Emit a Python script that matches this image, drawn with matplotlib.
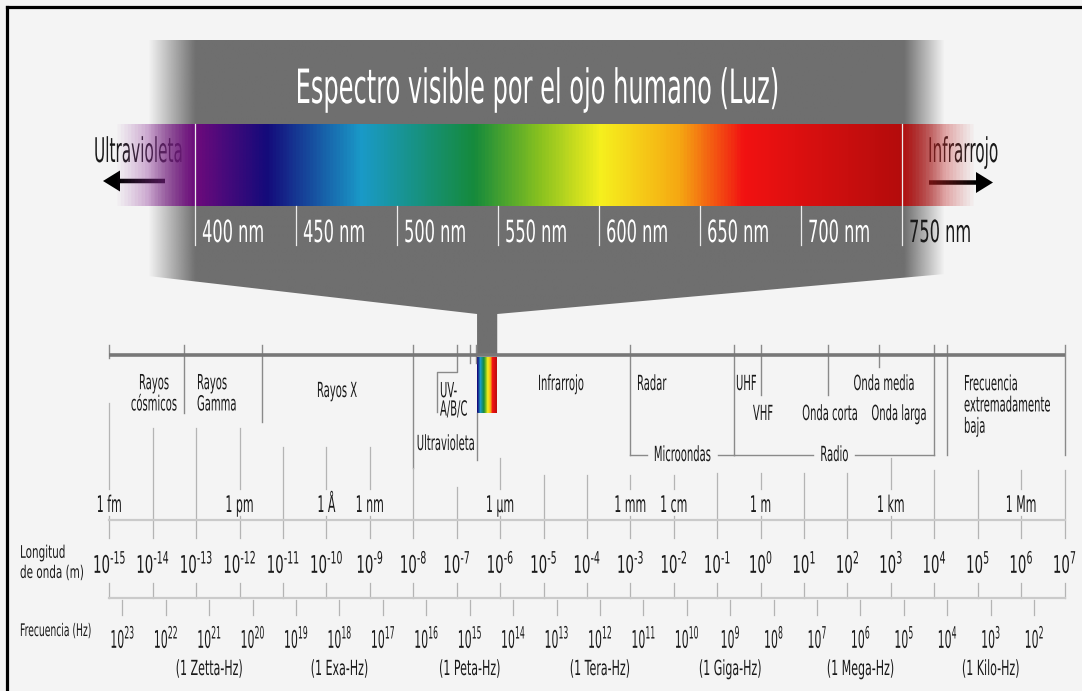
import numpy as np
import matplotlib
matplotlib.use('Agg')
import matplotlib.pyplot as plt
from matplotlib.patches import Polygon
from matplotlib.patheffects import AbstractPathEffect
from matplotlib.text import Text
from matplotlib.transforms import Affine2D, Bbox
from matplotlib.colors import LinearSegmentedColormap, to_rgba

plt.rcParams['mathtext.default'] = 'regular'

# ---------------- data ----------------
# visible band (nm)
VIS_TICKS_NM = [400, 450, 500, 550, 600, 650, 700, 750]
VIS_STOPS_NM = [360, 400, 435, 482, 538, 570, 601, 640, 672, 750, 787]
VIS_COLORS = ['#a04aa8', '#6c0a7c', '#140a7a', '#1a9ac8', '#158a3c', '#86c020',
              '#f6f01e', '#f5a812', '#f21212', '#b40c0c', '#c83a3a']
VIS_ALPHA = [0, 1, 1, 1, 1, 1, 1, 1, 1, 1, 0]

# full spectrum (m, Hz)
WL_EXP = list(range(-15, 8))
FREQ_EXP = list(range(23, 1, -1))
UNIT_EXP = [-15, -12, -10, -9, -6, -3, -2, 0, 3, 6]
UNIT_TEXT = ['1 fm', '1 pm', '1 Å', '1 nm', '1 µm', '1 mm', '1 cm', '1 m', '1 km', '1 Mm']
PREFIX_EXP = [21, 18, 15, 12, 9, 6, 3]
PREFIX_TEXT = ['(1 Zetta-Hz)', '(1 Exa-Hz)', '(1 Peta-Hz)', '(1 Tera-Hz)',
               '(1 Giga-Hz)', '(1 Mega-Hz)', '(1 Kilo-Hz)']

# band boundaries (m)
SEP_M = [1e-15, 5.2e-14, 3.3e-12, 1e-8, 2e-7, 2.8e-7, 1e-3, 0.25, 1.0, 35.0, 540.0, 1e4, 2e4, 1e7]
UV_BRACKET_M = [1e-7, 3.5e-8]
VIS_BAR_M = [2.95e-7, 8.6e-7]
BRACKETS = [('Microondas', 1e-3, 0.25), ('Radio', 0.25, 1e4)]

# ---------------- layout ----------------
W, H = 1082, 691
BG = '#f4f4f4'
GREY = '#6f6f6f'
INK = '#1a1a1a'
SEP_C = '#8a8a8a'
TICK_C = '#b4b4b4'
RULE_C = '#cacaca'
X_1FM, PX_DEC = 109.3, 43.42      # pixel of 1e-15 m, pixels per decade
X_400NM, PX_NM = 195.0, 2.02      # pixel of 400 nm, pixels per nm
FREQ_TO_WL_DEC = 8.3              # 10^k Hz drawn at 10^(8.3-k) m
SEP_DEPTH = [358, 413, 422, 468, 363, 363, 455, 455, 395, 395, 367, 455, 455, 455]
DEC_TOP = [403, 428, 428, 428, 447, 447, 447, 468, 487, 458, 475, 475, 475, 475,
           473, 473, 473, 473, 458, 470, 470, 470, 470]
# (text, x px, first baseline px, ha, line spacing)
BAND_LABELS = [
    ('Rayos\ncósmicos', 154, 389, 'center', 1.08),
    ('Rayos\nGamma', 197, 389, 'left', 1.08),
    ('Rayos X', 337, 397, 'center', 1.0),
    ('UV-\nA/B/C', 440, 397, 'left', 0.9),
    ('Ultravioleta', 475, 450, 'right', 1.0),
    ('Infrarrojo', 561, 390, 'center', 1.0),
    ('Radar', 637, 390, 'left', 1.0),
    ('UHF', 736, 390, 'left', 1.0),
    ('VHF', 763, 420, 'center', 1.0),
    ('Onda corta', 830, 420, 'center', 1.0),
    ('Onda larga', 899, 420, 'center', 1.0),
    ('Onda media', 884, 390, 'center', 1.0),
    ('Frecuencia\nextremadamente\nbaja', 964, 390, 'left', 1.08),
]
BAND_FS = 15


class Squeeze(AbstractPathEffect):
    # narrow the glyphs horizontally (the source image is squashed)
    def __init__(self, sx):
        super().__init__()
        self.sx = sx

    def draw_path(self, renderer, gc, tpath, affine, rgbFace=None):
        renderer.draw_path(gc, tpath, Affine2D().scale(self.sx, 1) + affine, rgbFace)


class NarrowText(Text):
    # text laid out and drawn with horizontally squeezed glyphs
    def __init__(self, x, y, s, sx, **kw):
        super().__init__(x, y, s, **kw)
        self._sx = sx
        self.set_path_effects([Squeeze(sx)])

    def _get_layout(self, renderer):
        bbox, info, descent = super()._get_layout(renderer)
        sx = self._sx
        bbox = Bbox([[bbox.x0 * sx, bbox.y0], [bbox.x1 * sx, bbox.y1]])
        info = [(line, (wh[0] * sx, wh[1]), x * sx, y) for line, wh, x, y in info]
        return bbox, info, descent


def txt(ax, x, y, s, size, sx=0.5, ha='center', va='baseline', color=INK, ls=1.2):
    t = NarrowText(x, y, s, sx, fontsize=size, ha=ha, va=va, color=color, linespacing=ls)
    ax.add_artist(t)
    return t


def power(e):
    # short hyphen in the exponent, as in the source
    return r'$10^{%s}$' % str(e).replace('-', '\u2010')


fig = plt.figure(figsize=(W / 100, H / 100), dpi=100, facecolor=BG)


def overlay():
    a = fig.add_axes([0, 0, 1, 1])
    a.axis('off')
    return a


ax = overlay()
axv = overlay()
axe = overlay()
axe.set_xscale('log')

lims = {
    ax: (0, W),
    axv: (400 - X_400NM / PX_NM, 400 + (W - X_400NM) / PX_NM),
    axe: (10 ** (-15 - X_1FM / PX_DEC), 10 ** (-15 + (W - X_1FM) / PX_DEC)),
}


def set_limits():
    for a, xl in lims.items():
        a.set_xlim(*xl)
        a.set_ylim(H, 0)


set_limits()

# frame
ax.plot([6.5, 6.5], [H, 6.5], color='black', lw=2.3, solid_capstyle='projecting')
ax.plot([6.5, W], [6.5, 6.5], color='black', lw=2.3, solid_capstyle='projecting')

# grey funnel
s0, s1 = axe.transData.transform([(VIS_BAR_M[0], 1), (VIS_BAR_M[1], 1)])[:, 0]
funnel = Polygon([(148, 40), (945, 40), (945, 274), (s1, 314), (s1, 356),
                  (s0, 356), (s0, 314), (148, 276)], closed=True, fc='none', ec='none')
ax.add_patch(funnel)
xs = np.linspace(148, 945, 800)
fade = np.clip(np.minimum((xs - 148) / 47, (945 - xs) / 40), 0, 1)
img = np.zeros((1, xs.size, 4))
img[..., :3] = to_rgba(GREY)[:3]
img[0, :, 3] = fade
im = ax.imshow(img, extent=(148, 945, 356, 40), aspect='auto', interpolation='bilinear')
im.set_clip_path(funnel)

# visible spectrum bar
pos = (np.array(VIS_STOPS_NM) - VIS_STOPS_NM[0]) / (VIS_STOPS_NM[-1] - VIS_STOPS_NM[0])
vis_cmap = LinearSegmentedColormap.from_list(
    'vis', list(zip(pos, [to_rgba(c, a) for c, a in zip(VIS_COLORS, VIS_ALPHA)])))
axv.imshow(np.linspace(0, 1, 1000)[None, :], cmap=vis_cmap, aspect='auto',
           extent=(VIS_STOPS_NM[0], VIS_STOPS_NM[-1], 206, 124), interpolation='bilinear')
for nm in VIS_TICKS_NM:
    top = 124 if nm in (VIS_TICKS_NM[0], VIS_TICKS_NM[-1]) else 206
    axv.plot([nm, nm], [top, 245], color='#ececec', lw=0.9)
    txt(axv, nm + 3.5, 242, f'{nm} nm', 22, sx=0.53, ha='left',
        color='white' if nm < VIS_TICKS_NM[-1] else INK)

txt(ax, 537.5, 103, 'Espectro visible por el ojo humano (Luz)', 34, sx=0.51, color='white')
txt(ax, 183, 162, 'Ultravioleta', 24.5, sx=0.45, ha='right')
txt(ax, 928, 162, 'Infrarrojo', 24.5, sx=0.45, ha='left')
ax.arrow(165, 181, -62, 0, width=4.5, head_width=21, head_length=17,
         length_includes_head=True, fc='black', ec='none')
ax.arrow(929, 182.5, 64, 0, width=4.5, head_width=21, head_length=17,
         length_includes_head=True, fc='black', ec='none')

# ---------------- full spectrum ----------------
axe.plot([10.0 ** WL_EXP[0], 10.0 ** WL_EXP[-1]], [355, 355], color='#777777',
         lw=2.6, solid_capstyle='butt', zorder=3)
for m, d in zip(SEP_M, SEP_DEPTH):
    axe.plot([m, m], [345, d], color=SEP_C, lw=1.0)
axe.plot([UV_BRACKET_M[0], UV_BRACKET_M[0], UV_BRACKET_M[1], UV_BRACKET_M[1]],
         [345, 372, 372, 412], color=SEP_C, lw=1.0)
xe = np.geomspace(VIS_BAR_M[0], VIS_BAR_M[1], 61)
axe.pcolormesh(xe, [357, 413], np.linspace(430, 745, 60)[None, :], cmap=vis_cmap,
               vmin=VIS_STOPS_NM[0], vmax=VIS_STOPS_NM[-1], shading='flat')
axe.plot([VIS_BAR_M[0]] * 2, [413, 460], color=SEP_C, lw=1.0)

renderer = fig.canvas.get_renderer()
for name, a, b in BRACKETS:
    mid = np.sqrt(a * b)
    t = txt(axe, mid, 461, name, BAND_FS, sx=0.48)
    half = (0.5 * t.get_window_extent(renderer).width + 7) / PX_DEC
    axe.plot([a, mid / 10 ** half], [455, 455], color=SEP_C, lw=1.0)
    axe.plot([mid * 10 ** half, b], [455, 455], color=SEP_C, lw=1.0)


def asc(size):
    return 0.76 * size * 100 / 72   # ascent of 'l' in px


for s, x, y, ha, ls in BAND_LABELS:
    if '\n' in s:
        txt(ax, x, y - asc(BAND_FS), s, BAND_FS, sx=0.48, ha=ha, va='top', ls=ls)
    else:
        txt(ax, x, y, s, BAND_FS, sx=0.48, ha=ha)

for e, top in zip(WL_EXP, DEC_TOP):
    m = 10.0 ** e
    if e in UNIT_EXP:
        segs = [(top, 489), (516, 538)]
        txt(axe, m, 512, UNIT_TEXT[UNIT_EXP.index(e)], 16.5, sx=0.48)
    else:
        segs = [(top, 538)]
    segs.append((583, 598))
    for y0, y1 in segs:
        axe.plot([m, m], [y0, y1], color=TICK_C, lw=0.9)
    txt(axe, m, 573, power(e), 17.5, sx=0.55)

axe.plot([10.0 ** WL_EXP[0], 10.0 ** WL_EXP[-1]], [520, 520], color=RULE_C, lw=1.6)
axe.plot([10.0 ** WL_EXP[0], 10.0 ** WL_EXP[-1]], [598, 598], color=RULE_C, lw=1.6)

for k in FREQ_EXP:
    m = 10.0 ** (FREQ_TO_WL_DEC - k)
    axe.plot([m, m], [600, 615], color=TICK_C, lw=0.9)
    txt(axe, m, 648, power(k), 17.5, sx=0.45)
for k, s in zip(PREFIX_EXP, PREFIX_TEXT):
    txt(axe, 10.0 ** (FREQ_TO_WL_DEC - k), 675, s, 15, sx=0.53)

txt(ax, 20, 557 - asc(12.5), 'Longitud\nde onda (m)', 12.5, sx=0.6, ha='left',
    va='top', ls=1.15)
txt(ax, 20, 636, 'Frecuencia (Hz)', 12.5, sx=0.53, ha='left')

set_limits()
fig.savefig('out.png', dpi=100, facecolor=BG)
